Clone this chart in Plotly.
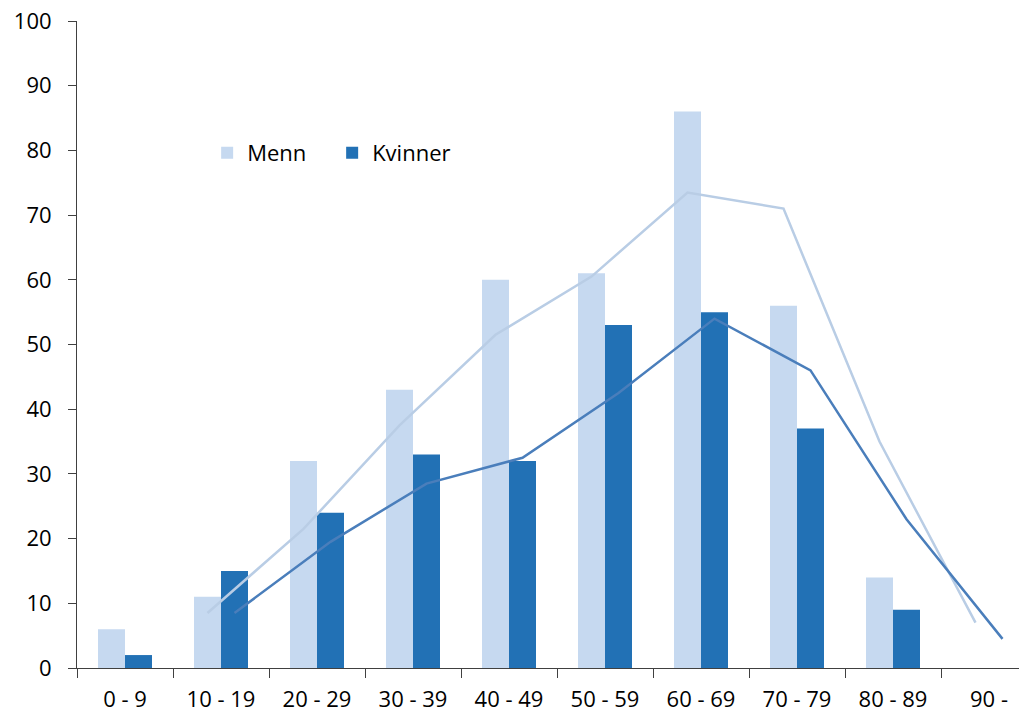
import plotly.graph_objects as go

categories = ["0 - 9", "10 - 19", "20 - 29", "30 - 39", "40 - 49",
              "50 - 59", "60 - 69", "70 - 79", "80 - 89", "90 -"]
menn = [6, 11, 32, 43, 60, 61, 86, 56, 14, 0]
kvinner = [2, 15, 24, 33, 32, 53, 55, 37, 9, 0]
y_ticks = [0, 10, 20, 30, 40, 50, 60, 70, 80, 90, 100]

C_MENN = "#C6D9F0"
C_KV = "#2271B5"
L_MENN = "#B9CDE5"
L_KV = "#4A7EBB"

FONT = "Open Sans"
idx = list(range(len(categories)))
off = 0.140625
bw = 0.28125


def moving_avg(v):
    return [None] + [(v[i - 1] + v[i]) / 2 for i in range(1, len(v))]


fig = go.Figure()
fig.add_trace(go.Bar(x=[i - off for i in idx], y=menn, width=bw, name="Menn",
                     marker=dict(color=C_MENN, line=dict(width=0))))
fig.add_trace(go.Bar(x=[i + off for i in idx], y=kvinner, width=bw, name="Kvinner",
                     marker=dict(color=C_KV, line=dict(width=0))))
fig.add_trace(go.Scatter(x=[i - off for i in idx], y=moving_avg(menn), mode="lines",
                         line=dict(color=L_MENN, width=2.5), showlegend=False,
                         hoverinfo="skip"))
fig.add_trace(go.Scatter(x=[i + off for i in idx], y=moving_avg(kvinner), mode="lines",
                         line=dict(color=L_KV, width=2.5), showlegend=False,
                         hoverinfo="skip"))

# page body has an 8px margin; compensate so the figure fills the 1027x715 view
W, H = 1019, 707
ml, mt, mb = 69, 13, 47
cat_px = 96
xmax = -0.5 + (W - ml) / cat_px

fig.update_layout(
    width=W, height=H,
    margin=dict(l=ml, r=0, t=mt, b=mb),
    plot_bgcolor="white", paper_bgcolor="white",
    barmode="overlay",
    font=dict(family=FONT, size=22, color="black"),
    showlegend=True,
    legend=dict(orientation="h", x=0.137, y=0.796, xanchor="left", yanchor="middle",
                font=dict(family=FONT, size=22, color="black"),
                bgcolor="rgba(0,0,0,0)", itemwidth=30, tracegroupgap=0,
                entrywidth=80),
    xaxis=dict(range=[-0.5, xmax], tickmode="array", tickvals=idx, ticktext=categories,
               ticks="", showgrid=False, zeroline=False, showline=True,
               linecolor="#404040", linewidth=1, automargin=False,
               ticklabeloverflow="allow",
               minor=dict(tick0=0.5, dtick=1, ticks="outside", ticklen=9,
                          tickcolor="#404040", tickwidth=1, showgrid=False),
               ticklabelstandoff=12),
    yaxis=dict(range=[0, 100], tickmode="array", tickvals=y_ticks, ticks="outside",
               ticklen=8, tickcolor="#404040", showgrid=False, zeroline=False,
               showline=True, linecolor="#404040", linewidth=1, automargin=False,
               ticklabeloverflow="allow", ticklabelstandoff=12),
)

fig.write_html("out.html")
